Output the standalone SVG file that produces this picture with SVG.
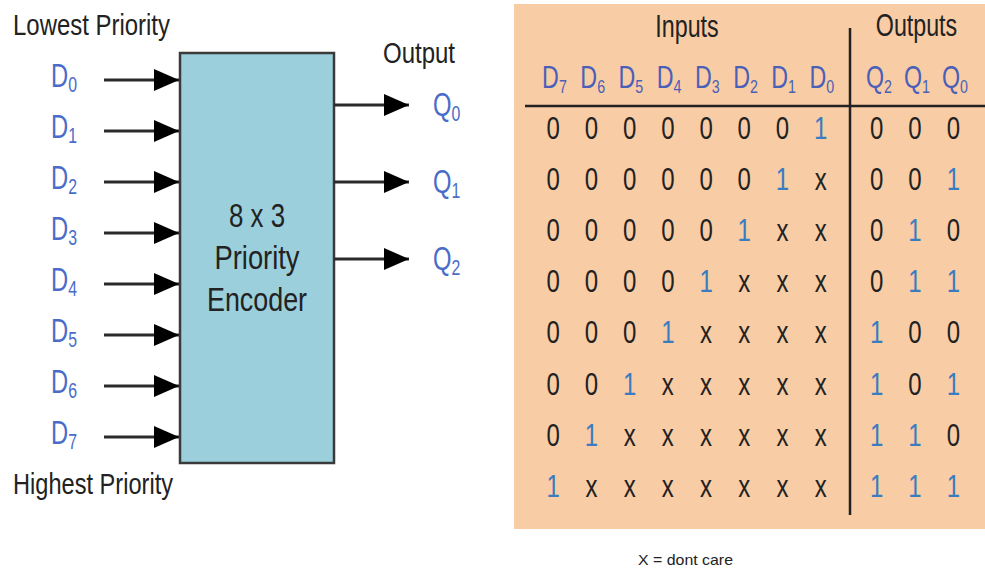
<svg xmlns="http://www.w3.org/2000/svg" width="985" height="571" viewBox="0 0 985 571">
<style>
text{font-family:"Liberation Sans",Arial,sans-serif;}
.lbl{font-size:30px;fill:#222;}
.bx{font-size:34px;fill:#222;text-anchor:middle;}
.dl{font-size:33px;fill:#4a6cc8;}
.sb{font-size:22px;}
.hd{font-size:31px;fill:#222;text-anchor:middle;}
.hl{font-size:31px;fill:#4a5fb8;text-anchor:middle;}
.hs{font-size:19px;}
.z{font-size:32px;fill:#222;text-anchor:middle;}
.o{font-size:32px;fill:#3a7cc0;text-anchor:middle;}
.x{font-size:32px;fill:#222;text-anchor:middle;}
.wire{stroke:#2a2a2a;stroke-width:3.2;fill:none;marker-end:url(#ah);}
.rule{stroke:#222;stroke-width:2.5;fill:none;}
</style>
<defs>
<marker id="ah" markerUnits="userSpaceOnUse" markerWidth="26" markerHeight="24" refX="25" refY="11" orient="auto">
<path d="M0,0 L25,11 L0,22 Z" fill="#000"/>
</marker>
</defs>
<rect width="985" height="571" fill="#fff"/>

<g id="left-titles">
<text class="lbl" x="13" y="35" textLength="157" lengthAdjust="spacingAndGlyphs">Lowest Priority</text>
<text class="lbl" x="13" y="494" textLength="160" lengthAdjust="spacingAndGlyphs">Highest Priority</text>
<text class="lbl" x="419" y="63" text-anchor="middle" textLength="72" lengthAdjust="spacingAndGlyphs">Output</text>
</g>

<g id="encoder">
<rect x="180" y="53" width="154" height="410" fill="#9bcfdc" stroke="#3a3a3a" stroke-width="2.5"/>
<text class="bx" x="257" y="227" textLength="56" lengthAdjust="spacingAndGlyphs">8 x 3</text>
<text class="bx" x="257" y="269" textLength="85" lengthAdjust="spacingAndGlyphs">Priority</text>
<text class="bx" x="257" y="311" textLength="100" lengthAdjust="spacingAndGlyphs">Encoder</text>
</g>

<g id="input-labels">
<text class="dl" transform="translate(51,87) scale(0.72,1)">D<tspan class="sb" dy="5">0</tspan></text>
<text class="dl" transform="translate(51,138) scale(0.72,1)">D<tspan class="sb" dy="5">1</tspan></text>
<text class="dl" transform="translate(51,189) scale(0.72,1)">D<tspan class="sb" dy="5">2</tspan></text>
<text class="dl" transform="translate(51,240) scale(0.72,1)">D<tspan class="sb" dy="5">3</tspan></text>
<text class="dl" transform="translate(51,291) scale(0.72,1)">D<tspan class="sb" dy="5">4</tspan></text>
<text class="dl" transform="translate(51,342) scale(0.72,1)">D<tspan class="sb" dy="5">5</tspan></text>
<text class="dl" transform="translate(51,393) scale(0.72,1)">D<tspan class="sb" dy="5">6</tspan></text>
<text class="dl" transform="translate(51,444) scale(0.72,1)">D<tspan class="sb" dy="5">7</tspan></text>
</g>

<g id="output-labels">
<text class="dl" transform="translate(433,116) scale(0.72,1)">Q<tspan class="sb" dy="5">0</tspan></text>
<text class="dl" transform="translate(433,193) scale(0.72,1)">Q<tspan class="sb" dy="5">1</tspan></text>
<text class="dl" transform="translate(433,270) scale(0.72,1)">Q<tspan class="sb" dy="5">2</tspan></text>
</g>

<g id="connectors">
<line class="wire" x1="104" y1="80" x2="179" y2="80"/>
<line class="wire" x1="104" y1="131" x2="179" y2="131"/>
<line class="wire" x1="104" y1="182" x2="179" y2="182"/>
<line class="wire" x1="104" y1="233" x2="179" y2="233"/>
<line class="wire" x1="104" y1="284" x2="179" y2="284"/>
<line class="wire" x1="104" y1="335" x2="179" y2="335"/>
<line class="wire" x1="104" y1="386" x2="179" y2="386"/>
<line class="wire" x1="104" y1="437" x2="179" y2="437"/>
<line class="wire" x1="334" y1="105" x2="409" y2="105"/>
<line class="wire" x1="334" y1="182" x2="409" y2="182"/>
<line class="wire" x1="334" y1="259" x2="409" y2="259"/>
</g>

<g id="truth-table">
<rect x="514" y="4" width="471" height="525" fill="#f8cca5"/>
<line class="rule" x1="525" y1="106" x2="985" y2="106"/>
<line class="rule" x1="850" y1="28" x2="850" y2="515"/>
<g transform="scale(0.75,1)">
<text class="hd" x="916" y="37">Inputs</text>
<text class="hd" x="1222" y="36">Outputs</text>
<text class="hl" x="739.3" y="88">D<tspan class="hs" dy="5">7</tspan></text>
<text class="hl" x="790.3" y="88">D<tspan class="hs" dy="5">6</tspan></text>
<text class="hl" x="841.2" y="88">D<tspan class="hs" dy="5">5</tspan></text>
<text class="hl" x="892.1" y="88">D<tspan class="hs" dy="5">4</tspan></text>
<text class="hl" x="943.1" y="88">D<tspan class="hs" dy="5">3</tspan></text>
<text class="hl" x="994" y="88">D<tspan class="hs" dy="5">2</tspan></text>
<text class="hl" x="1044.9" y="88">D<tspan class="hs" dy="5">1</tspan></text>
<text class="hl" x="1095.9" y="88">D<tspan class="hs" dy="5">0</tspan></text>
<text class="hl" x="1172" y="88">Q<tspan class="hs" dy="5">2</tspan></text>
<text class="hl" x="1222.7" y="88">Q<tspan class="hs" dy="5">1</tspan></text>
<text class="hl" x="1273.3" y="88">Q<tspan class="hs" dy="5">0</tspan></text>

<text class="z" x="737.7" y="139">0</text><text class="z" x="788.7" y="139">0</text><text class="z" x="839.6" y="139">0</text><text class="z" x="890.5" y="139">0</text><text class="z" x="941.5" y="139">0</text><text class="z" x="992.4" y="139">0</text><text class="z" x="1043.3" y="139">0</text><text class="o" x="1094.3" y="139">1</text>
<text class="z" x="1168.9" y="139">0</text><text class="z" x="1220" y="139">0</text><text class="z" x="1271.1" y="139">0</text>

<text class="z" x="737.7" y="190">0</text><text class="z" x="788.7" y="190">0</text><text class="z" x="839.6" y="190">0</text><text class="z" x="890.5" y="190">0</text><text class="z" x="941.5" y="190">0</text><text class="z" x="992.4" y="190">0</text><text class="o" x="1043.3" y="190">1</text><text class="x" x="1094.3" y="190">x</text>
<text class="z" x="1168.9" y="190">0</text><text class="z" x="1220" y="190">0</text><text class="o" x="1271.1" y="190">1</text>

<text class="z" x="737.7" y="241">0</text><text class="z" x="788.7" y="241">0</text><text class="z" x="839.6" y="241">0</text><text class="z" x="890.5" y="241">0</text><text class="z" x="941.5" y="241">0</text><text class="o" x="992.4" y="241">1</text><text class="x" x="1043.3" y="241">x</text><text class="x" x="1094.3" y="241">x</text>
<text class="z" x="1168.9" y="241">0</text><text class="o" x="1220" y="241">1</text><text class="z" x="1271.1" y="241">0</text>

<text class="z" x="737.7" y="292">0</text><text class="z" x="788.7" y="292">0</text><text class="z" x="839.6" y="292">0</text><text class="z" x="890.5" y="292">0</text><text class="o" x="941.5" y="292">1</text><text class="x" x="992.4" y="292">x</text><text class="x" x="1043.3" y="292">x</text><text class="x" x="1094.3" y="292">x</text>
<text class="z" x="1168.9" y="292">0</text><text class="o" x="1220" y="292">1</text><text class="o" x="1271.1" y="292">1</text>

<text class="z" x="737.7" y="343">0</text><text class="z" x="788.7" y="343">0</text><text class="z" x="839.6" y="343">0</text><text class="o" x="890.5" y="343">1</text><text class="x" x="941.5" y="343">x</text><text class="x" x="992.4" y="343">x</text><text class="x" x="1043.3" y="343">x</text><text class="x" x="1094.3" y="343">x</text>
<text class="o" x="1168.9" y="343">1</text><text class="z" x="1220" y="343">0</text><text class="z" x="1271.1" y="343">0</text>

<text class="z" x="737.7" y="395">0</text><text class="z" x="788.7" y="395">0</text><text class="o" x="839.6" y="395">1</text><text class="x" x="890.5" y="395">x</text><text class="x" x="941.5" y="395">x</text><text class="x" x="992.4" y="395">x</text><text class="x" x="1043.3" y="395">x</text><text class="x" x="1094.3" y="395">x</text>
<text class="o" x="1168.9" y="395">1</text><text class="z" x="1220" y="395">0</text><text class="o" x="1271.1" y="395">1</text>

<text class="z" x="737.7" y="446">0</text><text class="o" x="788.7" y="446">1</text><text class="x" x="839.6" y="446">x</text><text class="x" x="890.5" y="446">x</text><text class="x" x="941.5" y="446">x</text><text class="x" x="992.4" y="446">x</text><text class="x" x="1043.3" y="446">x</text><text class="x" x="1094.3" y="446">x</text>
<text class="o" x="1168.9" y="446">1</text><text class="o" x="1220" y="446">1</text><text class="z" x="1271.1" y="446">0</text>

<text class="o" x="737.7" y="497">1</text><text class="x" x="788.7" y="497">x</text><text class="x" x="839.6" y="497">x</text><text class="x" x="890.5" y="497">x</text><text class="x" x="941.5" y="497">x</text><text class="x" x="992.4" y="497">x</text><text class="x" x="1043.3" y="497">x</text><text class="x" x="1094.3" y="497">x</text>
<text class="o" x="1168.9" y="497">1</text><text class="o" x="1220" y="497">1</text><text class="o" x="1271.1" y="497">1</text>
</g>
</g>

<g id="note">
<text x="638" y="565" font-size="15" fill="#222" textLength="95" lengthAdjust="spacingAndGlyphs">X = dont care</text>
</g>
</svg>
